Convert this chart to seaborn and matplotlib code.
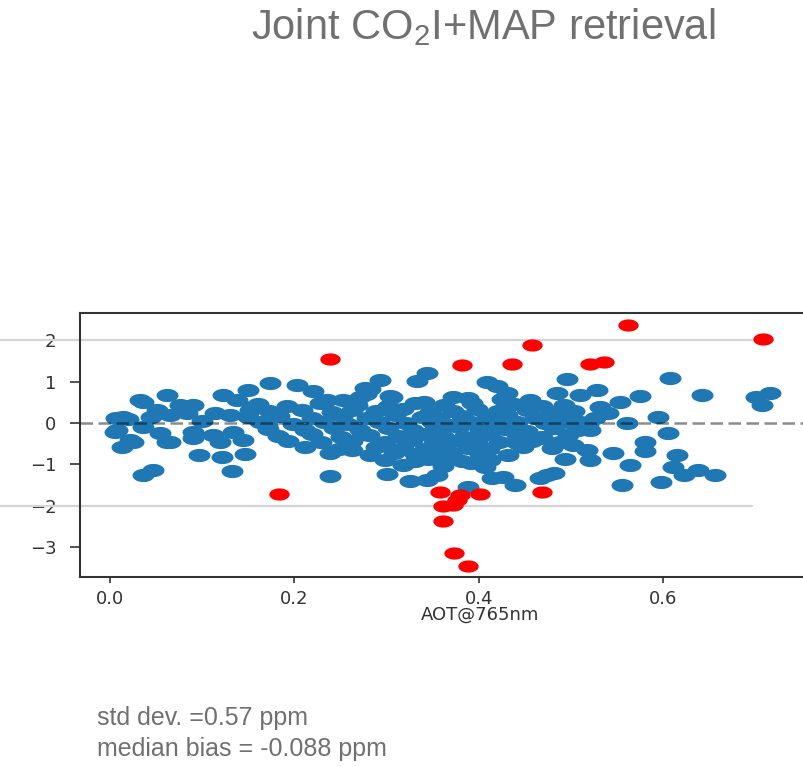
import numpy as np
import matplotlib
matplotlib.use("Agg")
import matplotlib.pyplot as plt
import seaborn as sns
from matplotlib.path import Path
from matplotlib.transforms import blended_transform_factory

# ---------------- data ----------------
blue_aot = [
    0.036, 0.047, 0.132, 0.239, 0.300, 0.096, 0.121, 0.146, 0.013, 0.025,
    0.005, 0.062, 0.007, 0.033, 0.062, 0.090, 0.123, 0.150, 0.174, 0.203,
    0.220, 0.282, 0.293, 0.306, 0.138, 0.155, 0.036, 0.076, 0.014, 0.051,
    0.065, 0.083, 0.114, 0.130, 0.152, 0.008, 0.036, 0.054, 0.090, 0.112,
    0.133, 0.022, 0.065, 0.090, 0.119, 0.144, 0.333, 0.344, 0.277, 0.304,
    0.235, 0.253, 0.271, 0.340, 0.325, 0.344, 0.409, 0.420, 0.431, 0.496,
    0.528, 0.485, 0.510, 0.607, 0.642, 0.700, 0.716, 0.707, 0.575, 0.553,
    0.531, 0.594, 0.561, 0.605, 0.580, 0.580, 0.546, 0.615, 0.564, 0.610,
    0.622, 0.638, 0.656, 0.597, 0.555, 0.521, 0.517, 0.502, 0.493, 0.481,
    0.466, 0.439, 0.426, 0.414, 0.407, 0.388, 0.355, 0.474, 0.521, 0.510,
    0.466, 0.441, 0.540, 0.526, 0.020, 0.045, 0.100, 0.170,
    # dense central cloud
    0.160, 0.192, 0.228, 0.268, 0.301, 0.331, 0.362, 0.393, 0.438, 0.468, 0.492,
    0.172, 0.208, 0.241, 0.262, 0.288, 0.318, 0.347, 0.372, 0.398, 0.421, 0.452, 0.478, 0.503,
    0.150, 0.183, 0.219, 0.252, 0.279, 0.309, 0.338, 0.357, 0.382, 0.409, 0.431, 0.461, 0.489,
    0.163, 0.198, 0.232, 0.258, 0.292, 0.321, 0.349, 0.368, 0.391, 0.418, 0.441, 0.472, 0.498, 0.518,
    0.171, 0.212, 0.243, 0.271, 0.302, 0.329, 0.352, 0.379, 0.401, 0.428, 0.452, 0.481, 0.508,
    0.182, 0.219, 0.251, 0.281, 0.312, 0.338, 0.361, 0.384, 0.412, 0.441, 0.469, 0.497,
    0.193, 0.229, 0.262, 0.298, 0.328, 0.351, 0.372, 0.398, 0.422, 0.458, 0.488,
    0.212, 0.248, 0.288, 0.318, 0.342, 0.362, 0.388, 0.411, 0.448, 0.479,
    0.239, 0.282, 0.308, 0.331, 0.352, 0.371, 0.401, 0.432,
    0.298, 0.331, 0.359, 0.382, 0.412,
    0.318, 0.361, 0.392, 0.372, 0.345, 0.425, 0.455, 0.278, 0.262, 0.388,
]
blue_bias = [
    -1.26, -1.14, -1.16, -1.28, -1.24, -0.78, -0.82, -0.75, -0.58, -0.46,
    -0.22, -0.46, 0.12, 0.56, 0.68, 0.44, 0.68, 0.80, 0.97, 0.92,
    0.78, 0.82, 1.04, 0.63, 0.56, 0.39, 0.51, 0.44, 0.15, 0.31,
    0.19, 0.24, 0.24, 0.19, 0.31, -0.17, -0.10, -0.24, -0.22, -0.29,
    -0.22, -0.41, -0.46, -0.36, -0.46, -0.41, 1.02, 1.21, 0.85, 0.65,
    0.56, 0.56, 0.63, 0.51, -1.40, -1.38, 0.99, 0.90, 0.73, 1.07,
    0.80, 0.73, 0.68, 1.09, 0.68, 0.63, 0.73, 0.44, 0.65, 0.51,
    0.39, 0.15, 0.00, -0.24, -0.46, -0.68, -0.73, -0.77, -1.02, -1.06,
    -1.26, -1.14, -1.26, -1.43, -1.50, -0.90, -0.65, -0.53, -0.87, -1.21,
    -1.33, -1.50, -1.31, -1.33, -1.06, -1.55, -1.26, -1.26, -0.17, 0.02,
    -0.36, -0.48, 0.24, 0.12, 0.10, 0.15, 0.05, -0.05,
    # dense central cloud
    0.46, 0.42, 0.48, 0.44, 0.41, 0.47, 0.43, 0.49, 0.45, 0.40, 0.44,
    0.29, 0.32, 0.27, 0.31, 0.28, 0.33, 0.26, 0.30, 0.34, 0.28, 0.31, 0.27, 0.30,
    0.14, 0.17, 0.12, 0.16, 0.13, 0.18, 0.15, 0.11, 0.16, 0.14, 0.19, 0.12, 0.15,
    0.01, -0.03, 0.02, -0.02, 0.03, -0.01, 0.02, -0.04, 0.01, -0.02, 0.03, -0.01, 0.02, -0.03,
    -0.14, -0.17, -0.12, -0.16, -0.13, -0.18, -0.15, -0.11, -0.16, -0.14, -0.19, -0.13, -0.16,
    -0.31, -0.28, -0.33, -0.29, -0.32, -0.27, -0.31, -0.34, -0.28, -0.30, -0.33, -0.29,
    -0.44, -0.47, -0.43, -0.46, -0.42, -0.48, -0.45, -0.43, -0.47, -0.44, -0.46,
    -0.59, -0.62, -0.58, -0.61, -0.63, -0.57, -0.60, -0.62, -0.58, -0.61,
    -0.74, -0.77, -0.73, -0.76, -0.78, -0.72, -0.75, -0.77,
    -0.89, -0.92, -0.88, -0.93, -0.90,
    -1.02, -1.05, -0.98, 0.62, -0.88, 0.58, 0.55, 0.70, -0.65, 0.60,
]
red_aot = [0.239, 0.183, 0.382, 0.436, 0.458, 0.562, 0.708, 0.521, 0.536,
           0.358, 0.380, 0.401, 0.376, 0.361, 0.372, 0.361, 0.373, 0.388, 0.469]
red_bias = [1.55, -1.72, 1.40, 1.43, 1.89, 2.37, 2.03, 1.43, 1.48,
            -1.67, -1.74, -1.72, -1.86, -2.00, -1.98, -2.37, -3.15, -3.46, -1.67]

x_ticks = [0.0, 0.2, 0.4, 0.6]
y_ticks = [-3, -2, -1, 0, 1, 2]
ref_levels = [2, -2]

title_text = "Joint CO$_2$I+MAP retrieval"
stat_lines = ["std dev. =0.57 ppm", "median bias = -0.088 ppm"]
x_label = "AOT@765nm"

# ---------------- style ----------------
sns.set_theme(style="white")
plt.rcParams["font.family"] = ["DejaVu Sans"]
plt.rcParams["mathtext.fontset"] = "custom"
plt.rcParams["mathtext.rm"] = "Liberation Sans"
plt.rcParams["mathtext.it"] = "Liberation Sans:italic"
plt.rcParams["mathtext.default"] = "regular"

W, H = 804, 767
fig = plt.figure(figsize=(W / 100, H / 100), dpi=100)
fig.patch.set_facecolor("white")

ax = fig.add_axes([80 / W, (H - 577) / H, 800 / W, (577 - 313) / H])
ax.set_xlim(-0.0325, 0.835)
ax.set_ylim(-3.73, 2.66)

# ellipse-shaped marker (the original figure is horizontally stretched)
theta = np.linspace(0, 2 * np.pi, 64)
ellipse = Path(np.column_stack([np.cos(theta), 0.6 * np.sin(theta)]), closed=True)

# reference lines at +-2 (span beyond axes to the left)
trans = blended_transform_factory(fig.transFigure, ax.transData)
for lv in ref_levels:
    ax.plot([0, 752 / W], [lv, lv], transform=trans, color="#d4d4d4",
            lw=1.6, clip_on=False, zorder=1)

sns.scatterplot(x=blue_aot, y=blue_bias, ax=ax, marker=ellipse, s=250,
                color="#1f77b4", linewidth=0, zorder=3)
sns.scatterplot(x=red_aot, y=red_bias, ax=ax, marker=ellipse, s=215,
                color="#ff0000", linewidth=0, zorder=4)

ax.axhline(0, color="black", alpha=0.45, ls=(0, (5, 2.2)), lw=1.8, zorder=5)

ax.set_xticks(x_ticks)
ax.set_xticklabels([f"{t:.1f}" for t in x_ticks])
ax.set_yticks(y_ticks)
ax.set_yticklabels([f"\u2212{abs(t)}" if t < 0 else f"{t}" for t in y_ticks])
ax.tick_params(axis="x", direction="out", length=4, width=1.2, pad=5,
               labelsize=13, colors="#333333", bottom=True)
ax.tick_params(axis="y", direction="out", length=7, width=1.2, pad=10,
               labelsize=13, colors="#333333", left=True)
ax.set_xlabel(x_label, fontsize=13, color="#333333", labelpad=-1)

for side in ["left", "bottom", "top", "right"]:
    ax.spines[side].set_color("#333333")
    ax.spines[side].set_linewidth(1.5)

fig.text(483 / W, 1 - 27 / H, title_text, ha="center", va="center",
         fontsize=30, color="#707070", family="Liberation Sans")
fig.text(97 / W, 1 - 718 / H, stat_lines[0], ha="left", va="center",
         fontsize=18, color="#707070", family="Liberation Sans")
fig.text(97 / W, 1 - 749 / H, stat_lines[1], ha="left", va="center",
         fontsize=18, color="#707070", family="Liberation Sans")

fig.savefig("out.png", dpi=100, facecolor="white")
